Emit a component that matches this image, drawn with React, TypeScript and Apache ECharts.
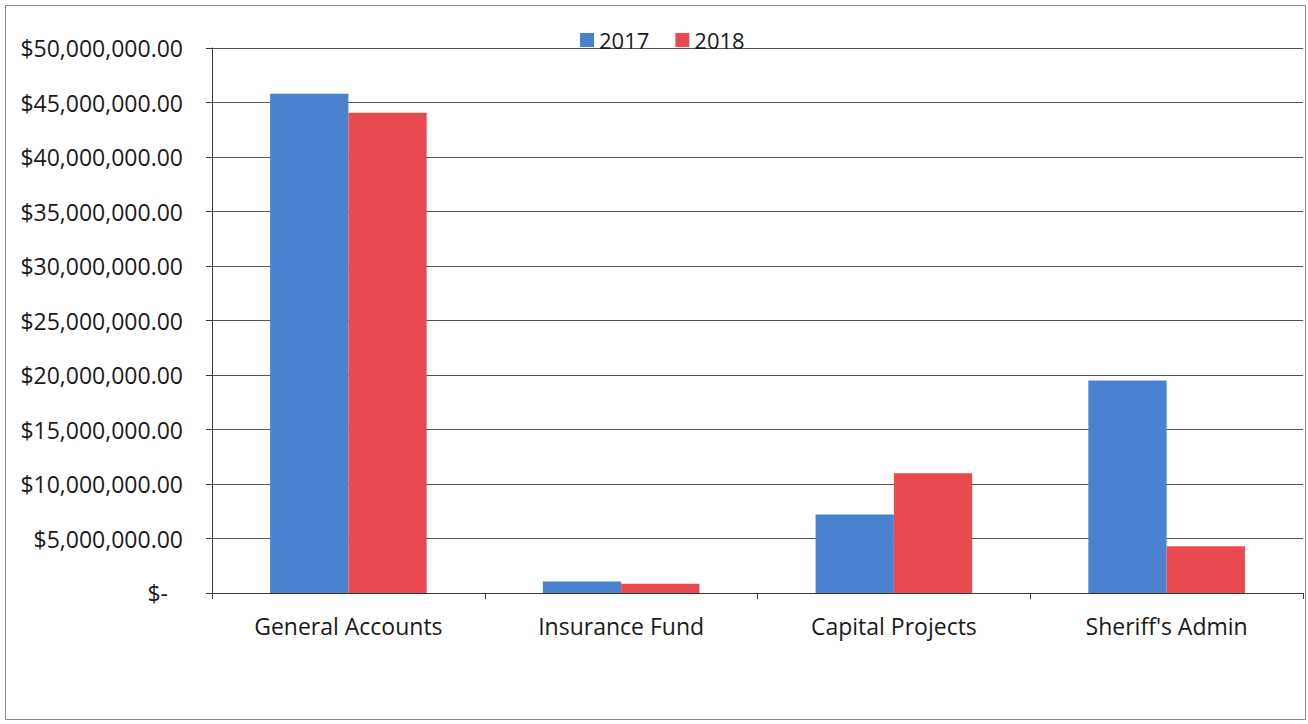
import React, { useEffect, useRef } from "react";
import * as echarts from "echarts";

const categories = ["General Accounts", "Insurance Fund", "Capital Projects", "Sheriff's Admin"];
const seriesNames = ["2017", "2018"];
const values2017 = [45800000, 1060000, 7200000, 19500000];
const values2018 = [44070000, 860000, 10980000, 4300000];
const colors = ["#4a82d0", "#e84a50"];

const FONT = "'Open Sans', sans-serif";

function fmt(v: number): string {
  if (v === 0) return "{z|$-}";
  return "$" + v.toLocaleString("en-US", { minimumFractionDigits: 2, maximumFractionDigits: 2 });
}

export default function App() {
  const ref = useRef<HTMLDivElement>(null);
  useEffect(() => {
    if (!ref.current) return;
    const chart = echarts.init(ref.current, undefined, { renderer: "svg" });
    chart.setOption({
      animation: false,
      backgroundColor: "#ffffff",
      textStyle: { fontFamily: FONT },
      graphic: [
        {
          type: "rect",
          shape: { x: 5.5, y: 5.5, width: 1300, height: 714 },
          style: { fill: "none", stroke: "#8a8a8a", lineWidth: 1 },
          silent: true,
        },
      ],
      legend: {
        left: 580,
        top: 29,
        padding: 0,
        itemWidth: 14,
        itemHeight: 14,
        itemGap: 26,
        icon: "rect",
        textStyle: { fontFamily: FONT, fontSize: 22, color: "#1a1a1a", padding: [0, 0, 0, 0] },
        data: seriesNames,
      },
      grid: { left: 212, right: 5, top: 48, bottom: 131, containLabel: false },
      xAxis: {
        type: "category",
        data: categories,
        axisLine: { show: true, lineStyle: { color: "#3a3a3a", width: 1 } },
        axisTick: { show: true, length: 6, alignWithLabel: false, lineStyle: { color: "#3a3a3a" } },
        axisLabel: { fontFamily: FONT, fontSize: 23, color: "#1a1a1a", margin: 21 },
      },
      yAxis: {
        type: "value",
        min: 0,
        max: 50000000,
        interval: 5000000,
        axisLine: { show: true, lineStyle: { color: "#3a3a3a", width: 1 } },
        axisTick: { show: true, length: 6, lineStyle: { color: "#3a3a3a" } },
        splitLine: { show: true, lineStyle: { color: "#555555", width: 1 } },
        axisLabel: {
          fontFamily: FONT,
          fontSize: 23,
          color: "#1a1a1a",
          margin: 29,
          formatter: fmt,
          rich: { z: { fontFamily: FONT, fontSize: 23, color: "#1a1a1a", padding: [0, 15, 0, 0] } },
        },
      },
      series: [
        {
          name: seriesNames[0],
          type: "bar",
          data: values2017,
          barWidth: "28.7%",
          barGap: "0%",
          itemStyle: { color: colors[0] },
        },
        {
          name: seriesNames[1],
          type: "bar",
          data: values2018,
          barWidth: "28.7%",
          barGap: "0%",
          itemStyle: { color: colors[1] },
        },
      ],
    });
    return () => chart.dispose();
  }, []);
  return (
    <div
      ref={ref}
      style={{ position: "absolute", left: 0, top: 0, width: 1308, height: 724 }}
    />
  );
}
